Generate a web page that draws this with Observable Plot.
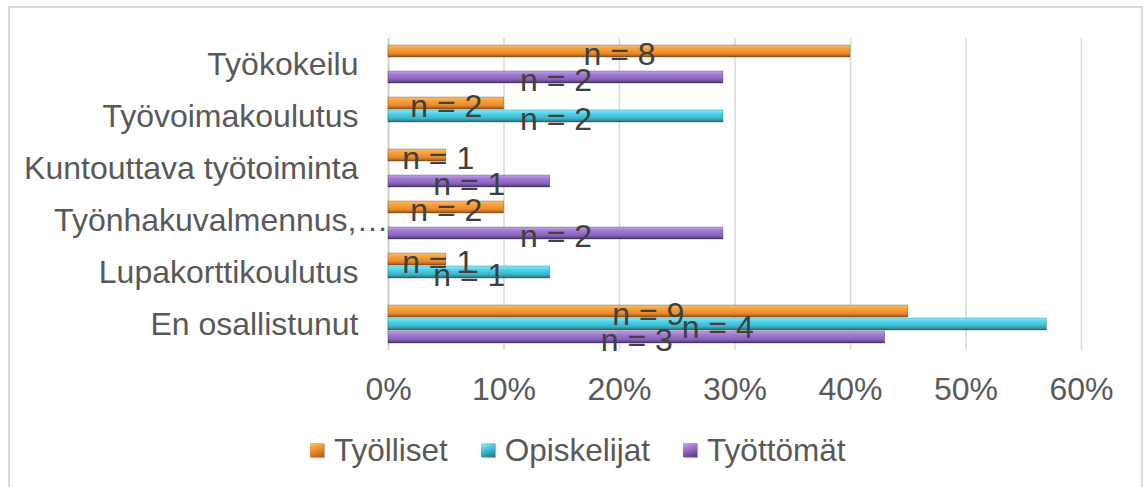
<!DOCTYPE html>
<html>
<head>
<meta charset="utf-8">
<script src="https://cdn.jsdelivr.net/npm/d3@7"></script>
<script src="https://cdn.jsdelivr.net/npm/@observablehq/plot@0.6"></script>
<style>
  html, body { margin: 0; padding: 0; background: #fff; overflow: hidden; }
  #wrap { position: relative; width: 1143px; height: 487px; font-family: "Liberation Sans", Arial, sans-serif; }
  #frame { position: absolute; left: 8px; top: 6px; width: 1135px; height: 520px; box-sizing: border-box; border: 2px solid #d9d9d9; pointer-events: none; }
  #chart { position: absolute; left: 0; top: 0; }
  #legend { position: absolute; left: 310px; top: 430px; display: flex; align-items: center; font-size: 31.5px; color: #595959; line-height: 40px; white-space: nowrap; }
  .item { display: flex; align-items: center; margin-right: 33px; flex-shrink: 0; }
  .sw { width: 14px; height: 14px; min-width: 14px; margin-right: 10px; box-sizing: border-box; flex-shrink: 0; box-shadow: 1px 1px 1px rgba(0,0,0,0.3); }
</style>
</head>
<body>
<div id="wrap">
  <div id="chart"></div>
  <div id="legend"></div>
  <div id="frame"></div>
</div>
<script>
// ---- data ----
const categories = ["Työkokeilu", "Työvoimakoulutus", "Kuntouttava työtoiminta", "Työnhakuvalmennus,…", "Lupakorttikoulutus", "En osallistunut"];
const series = ["Työlliset", "Opiskelijat", "Työttömät"];
const tyolliset   = [40, 10, 5, 10, 5, 45];
const opiskelijat = [0, 29, 0, 0, 14, 57];
const tyottomat   = [29, 0, 14, 29, 0, 43];
const nTyolliset   = [8, 2, 1, 2, 1, 9];
const nOpiskelijat = [null, 2, null, null, 1, 4];
const nTyottomat   = [2, null, 1, 2, null, 3];
const xTicks = [0, 10, 20, 30, 40, 50, 60];

const gradIds = { "Työlliset": "gOrange", "Opiskelijat": "gCyan", "Työttömät": "gPurple" };
const swatchCss = {
  "Työlliset": "linear-gradient(160deg, #ffc65a, #e8862a 55%, #a85a18)",
  "Opiskelijat": "linear-gradient(160deg, #8eeeff, #3cb6cc 55%, #1f7688)",
  "Työttömät": "linear-gradient(160deg, #c9a6f0, #8a64bc 55%, #4f3474)"
};

const valuesBySeries = [tyolliset, opiskelijat, tyottomat];
const nBySeries = [nTyolliset, nOpiskelijat, nTyottomat];
const rows = [];
series.forEach((s, si) => {
  categories.forEach((c, ci) => {
    rows.push({ category: c, series: s, value: valuesBySeries[si][ci], n: nBySeries[si][ci] });
  });
});
const barRows = rows.filter(d => d.value > 0);
const labelRows = rows.filter(d => d.n != null);

// labels are kept clear of the axis like the spreadsheet does
const minLabelCenter = 4.3;
const FS = 32;

const chart = Plot.plot({
  width: 1143,
  height: 415,
  marginTop: 35,
  marginBottom: 63,
  marginLeft: 388,
  marginRight: 62,
  style: { fontFamily: "'Liberation Sans', Arial, sans-serif", fontSize: FS + "px", color: "#595959", background: "transparent" },
  x: { domain: [0, 60], axis: null },
  fy: { domain: categories, padding: 0, axis: null },
  y: { domain: series, paddingInner: 0.04, paddingOuter: 0.52, axis: null },
  marks: [
    Plot.ruleX(xTicks.filter(t => t > 0), { stroke: "#d9d9d9", strokeWidth: 1.5 }),
    Plot.ruleX([0], { stroke: "#cfcfcf", strokeWidth: 2 }),
    ...series.map(s => Plot.barX(barRows.filter(d => d.series === s), {
      x: "value", y: "series", fy: "category",
      fill: `url(#${gradIds[s]})`,
      stroke: "rgba(0,0,0,0.35)", strokeWidth: 0.7,
      style: "filter: drop-shadow(1.5px 2px 1.5px rgba(0,0,0,0.32))"
    })),
    Plot.text(labelRows, {
      x: d => Math.max(d.value / 2, minLabelCenter), y: "series", fy: "category",
      text: d => "n = " + d.n, fill: "#404040", fontSize: FS, dy: 3
    }),
    Plot.axisX({ ticks: xTicks, tickSize: 0, tickPadding: 27, tickFormat: d => d + "%", fontSize: FS, fill: "#595959", label: null }),
    Plot.axisFy({ anchor: "left", tickSize: 0, tickPadding: 30, fontSize: FS, fill: "#595959", label: null })
  ]
});

// gradients for the bars
const svgNS = "http://www.w3.org/2000/svg";
const defs = document.createElementNS(svgNS, "defs");
defs.innerHTML = `
  <linearGradient id="gOrange" x1="0" y1="0" x2="0" y2="1">
    <stop offset="0" stop-color="#fcc46a"/><stop offset="0.25" stop-color="#f8a544"/>
    <stop offset="0.7" stop-color="#e88a2a"/><stop offset="1" stop-color="#9c5416"/>
  </linearGradient>
  <linearGradient id="gCyan" x1="0" y1="0" x2="0" y2="1">
    <stop offset="0" stop-color="#8ef0ff"/><stop offset="0.25" stop-color="#56d6ec"/>
    <stop offset="0.7" stop-color="#3ab4c8"/><stop offset="1" stop-color="#1f7080"/>
  </linearGradient>
  <linearGradient id="gPurple" x1="0" y1="0" x2="0" y2="1">
    <stop offset="0" stop-color="#c9a6f2"/><stop offset="0.25" stop-color="#a47ed6"/>
    <stop offset="0.7" stop-color="#8664b8"/><stop offset="1" stop-color="#4e3472"/>
  </linearGradient>`;
chart.insertBefore(defs, chart.firstChild);

// the truncated category label overhangs toward the axis, as in the original
chart.querySelectorAll("text").forEach(t => {
  if (t.textContent === "Työnhakuvalmennus,…") t.setAttribute("dx", "30");
});
document.getElementById("chart").appendChild(chart);

// legend
const legend = document.getElementById("legend");
series.forEach(s => {
  const item = document.createElement("div");
  item.className = "item";
  const sw = document.createElement("div");
  sw.className = "sw";
  sw.style.background = swatchCss[s];
  const label = document.createElement("span");
  label.textContent = s;
  item.appendChild(sw);
  item.appendChild(label);
  legend.appendChild(item);
});
</script>
</body>
</html>
